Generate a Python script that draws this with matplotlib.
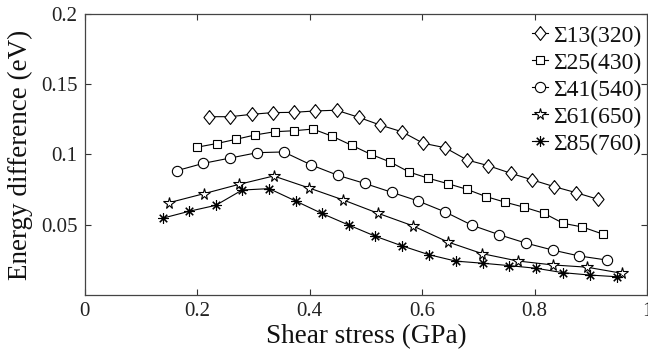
import matplotlib
matplotlib.use("Agg")
import matplotlib.pyplot as plt
import numpy as np

# Shear stress (GPa) and energy difference (eV) for each boundary
x_s13 = [0.221, 0.259, 0.297, 0.334, 0.372, 0.410, 0.448, 0.487, 0.525, 0.564,
         0.602, 0.641, 0.680, 0.718, 0.758, 0.796, 0.835, 0.874, 0.913]
y_s13 = [0.1269, 0.1269, 0.1286, 0.1298, 0.1300, 0.1310, 0.1315, 0.1265, 0.1210, 0.1162,
         0.1080, 0.1048, 0.0961, 0.0920, 0.0866, 0.0819, 0.0771, 0.0728, 0.0681]

x_s25 = [0.200, 0.235, 0.269, 0.303, 0.338, 0.372, 0.406, 0.440, 0.475, 0.509, 0.543,
         0.577, 0.611, 0.646, 0.679, 0.714, 0.748, 0.782, 0.817, 0.851, 0.885, 0.921]
y_s25 = [0.1052, 0.1078, 0.1108, 0.1139, 0.1162, 0.1169, 0.1181, 0.1130, 0.1065, 0.1001, 0.0947,
         0.0875, 0.0831, 0.0792, 0.0753, 0.0700, 0.0660, 0.0624, 0.0581, 0.0510, 0.0484, 0.0434]

x_s41 = [0.164, 0.211, 0.259, 0.307, 0.354, 0.402, 0.450, 0.498, 0.546,
         0.593, 0.641, 0.689, 0.737, 0.784, 0.832, 0.879, 0.928]
y_s41 = [0.0885, 0.0937, 0.0975, 0.1013, 0.1018, 0.0927, 0.0852, 0.0794, 0.0731,
         0.0669, 0.0591, 0.0496, 0.0429, 0.0370, 0.0320, 0.0278, 0.0249]

x_s61 = [0.150, 0.212, 0.275, 0.336, 0.398, 0.460, 0.522,
         0.583, 0.646, 0.707, 0.770, 0.832, 0.893, 0.956]
y_s61 = [0.0657, 0.0721, 0.0788, 0.0847, 0.0763, 0.0676, 0.0581,
         0.0493, 0.0377, 0.0294, 0.0242, 0.0214, 0.0198, 0.0154]

x_s85 = [0.140, 0.186, 0.233, 0.280, 0.328, 0.375, 0.422, 0.470, 0.517,
         0.564, 0.612, 0.660, 0.708, 0.755, 0.803, 0.850, 0.898, 0.946]
y_s85 = [0.0548, 0.0596, 0.0638, 0.0747, 0.0757, 0.0669, 0.0580, 0.0497, 0.0418,
         0.0350, 0.0287, 0.0241, 0.0226, 0.0209, 0.0190, 0.0159, 0.0142, 0.0130]

labels = ["Σ13(320)", "Σ25(430)", "Σ41(540)", "Σ61(650)", "Σ85(760)"]

x_ticks = [0, 0.2, 0.4, 0.6, 0.8, 1]
x_tick_labels = ["0", "0.2", "0.4", "0.6", "0.8", "1"]
y_ticks = [0.05, 0.1, 0.15, 0.2]
y_tick_labels = ["0.05", "0.1", "0.15", "0.2"]

plt.rcParams["font.family"] = ["Liberation Serif", "DejaVu Serif"]

fig = plt.figure(figsize=(6.48, 3.54), dpi=100)
ax = fig.add_axes([0.1307, 0.1667, 0.8678, 0.7938])

tall_diamond = [(0, 1), (0.8, 0), (0, -1), (-0.8, 0), (0, 1)]

styles = [
    dict(marker=tall_diamond, ms=10, mfc="white"),
    dict(marker="s", ms=5.6, mfc="white"),
    dict(marker="o", ms=7.4, mfc="white"),
    dict(marker="*", ms=8.5, mfc="white"),
    dict(marker=(8, 2, 0), ms=7.5, mfc="black"),
]
series = [(x_s13, y_s13), (x_s25, y_s25), (x_s41, y_s41), (x_s61, y_s61), (x_s85, y_s85)]

for (xs, ys), st, lab in zip(series, styles, labels):
    ax.plot(xs, ys, color="black", lw=0.8, mec="black", mew=0.8, label=lab, **st)

ax.set_xlim(0, 1)
ax.set_ylim(0, 0.2)
ax.set_xticks(x_ticks)
ax.set_xticklabels(x_tick_labels)
ax.set_yticks(y_ticks)
ax.set_yticklabels(y_tick_labels)
ax.tick_params(direction="in", top=True, right=True, length=4.5, width=0.8,
               labelsize=15, colors="#333333", labelcolor="#222222", pad=5)
for sp in ax.spines.values():
    sp.set_color("#444444")
    sp.set_linewidth(0.9)

ax.set_xlabel("Shear stress (GPa)", fontsize=19.5, color="#111111", labelpad=2)
ax.set_ylabel("Energy difference (eV)", fontsize=19.5, color="#111111", labelpad=6)

leg = ax.legend(loc="upper right", bbox_to_anchor=(0.99, 0.96), frameon=False,
                fontsize=17, handlelength=0.7, handletextpad=0.2,
                labelspacing=0.23, borderaxespad=0.0, borderpad=0.0)
for t in leg.get_texts():
    t.set_color("#111111")

fig.savefig("out.png", dpi=100)
